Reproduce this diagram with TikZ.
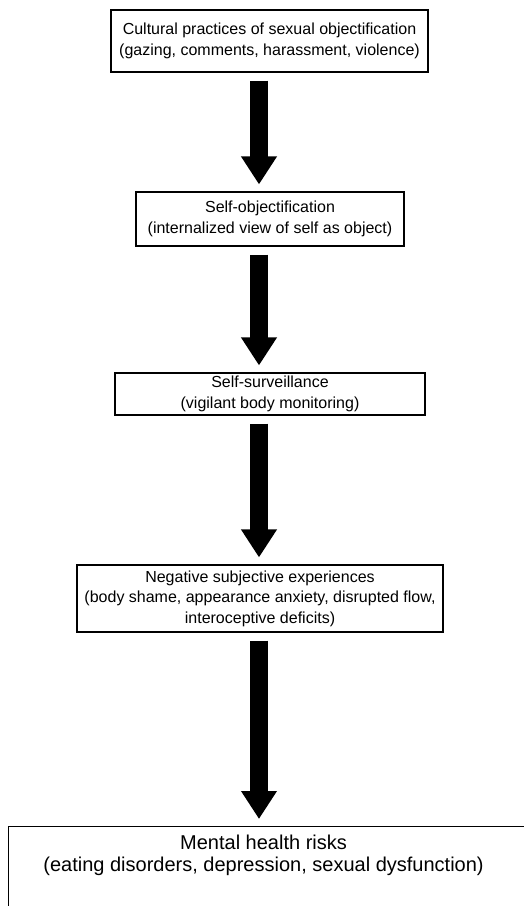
\documentclass[tikz,border=0pt]{standalone}
\usepackage{fontspec}
\setmainfont{Liberation Sans}
\usetikzlibrary{arrows.meta,positioning}

\begin{document}
\begin{tikzpicture}[x=1pt, y=-1pt, font=\fontsize{16}{20.5}\selectfont, line width=1.1pt,
  stepbox/.style={draw, align=center, inner sep=0pt},
  bigarrow/.style={line width=18pt, -{Triangle[width=34pt, length=28pt]},
                   shorten <=8pt, shorten >=7pt}]

\useasboundingbox (0,0) rectangle (524,906);

% ============================================================
%  Stages (boxes, top to bottom)
% ============================================================

% Box 1: x 111..428, y 10..72
\node[stepbox, minimum width=317pt, minimum height=62pt] (practices) at (269.5,41)
  {Cultural practices of sexual objectification\\(gazing, comments, harassment, violence)};

% Box 2: x 137..403, y 192..246
\node[stepbox, minimum width=268pt, minimum height=54pt] (selfobj) at (270,219)
  {Self-objectification\\(internalized view of self as object)};

% Box 3: x 115..425, y 373..415
\node[stepbox, minimum width=310pt, minimum height=42pt] (surveil) at (270,394)
  {Self-surveillance\\(vigilant body monitoring)};

% Box 4: x 78..442, y 565..632
\node[stepbox, minimum width=366pt, minimum height=67pt] (negexp) at (260,598.5)
  {Negative subjective experiences\\(body shame, appearance anxiety, disrupted flow,\\interoceptive deficits)};

% Box 5: runs off the right and bottom edge, larger type
\node[stepbox, minimum width=524pt, minimum height=110pt, anchor=north west] (risks) at (8,826) {};
\node[below=8pt of risks.north, align=center, inner sep=0pt, xshift=-7pt,
      font=\fontsize{20}{22}\selectfont] (riskstxt)
  {Mental health risks\\(eating disorders, depression, sexual dysfunction)};

% ============================================================
%  Block arrows (all at x = 259)
% ============================================================
\coordinate (ax) at (259,0);
\draw[bigarrow] (ax |- practices.south) -- (ax |- selfobj.north);
\draw[bigarrow] (ax |- selfobj.south) -- (ax |- surveil.north);
\draw[bigarrow] (ax |- surveil.south) -- (ax |- negexp.north);
\draw[bigarrow] (ax |- negexp.south) -- (ax |- risks.north);

\end{tikzpicture}
\end{document}
